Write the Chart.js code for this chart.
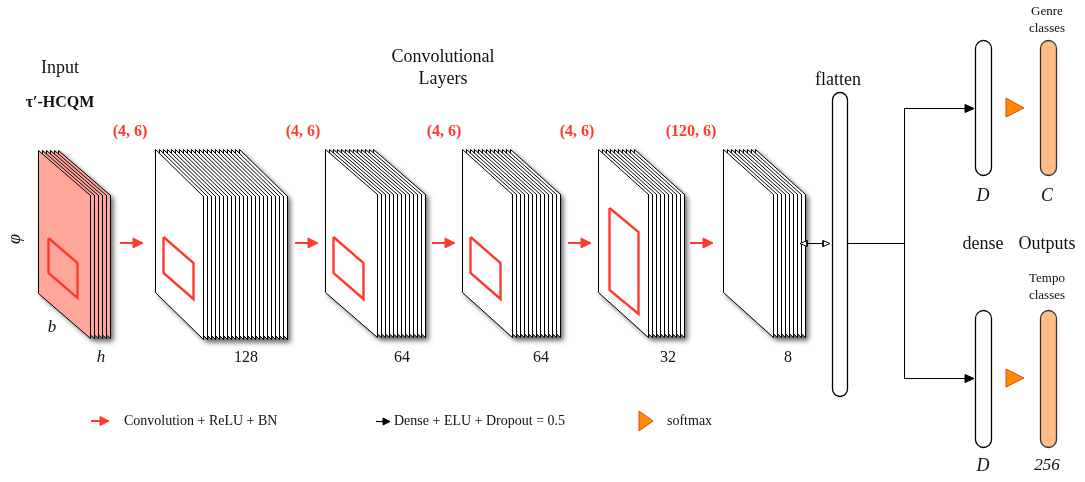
<!DOCTYPE html>
<html>
<head>
<meta charset="utf-8">
<script src="https://cdn.jsdelivr.net/npm/chart.js@4.4.1/dist/chart.umd.min.js"></script>
<style>
  html, body { margin: 0; padding: 0; background: #fff; }
  #wrap { width: 1085px; height: 482px; }
</style>
</head>
<body>
<div id="wrap"><canvas id="net" width="1085" height="482"></canvas></div>
<script>
// values of the network
var layerNames = ['input', 'conv1', 'conv2', 'conv3', 'conv4', 'conv5'];
var filterLabels = ['h', '128', '64', '64', '32', '8'];
var kernelLabels = ['(4, 6)', '(4, 6)', '(4, 6)', '(4, 6)', '(120, 6)'];
var sheetCounts = [6, 22, 13, 13, 10, 9];
var denseLabels = ['D', 'D'];
var outputLabels = ['C', '256'];
var outputNames = [['Genre', 'classes'], ['Tempo', 'classes']];
var legendLabels = ['Convolution + ReLU + BN', 'Dense + ELU + Dropout = 0.5', 'softmax'];

// layout (pixels in the 1085x482 frame)
var stackLeft = [38.5, 155.5, 325.5, 462.5, 598.5, 723.5];
var stackTop = [150, 149, 149, 149, 149, 149];
var sheetW = [52, 48, 52, 50, 50, 50];
var sheetSlant = [45, 47, 45, 45, 45, 45];
var sheetH = 143;
var sheetGap = 4;
// kernel window: dx, dy, width, slant, height (relative to front sheet)
var winBox = [[10, 88, 29, 25, 35], [8, 88, 30, 26, 36], [8, 88, 30, 26, 36], [8, 88, 30, 26, 36], [11, 59, 29, 24, 82], null];
var convArrowX = [120, 295, 432, 568, 690];
var kernelX = [130, 303, 444, 577, 691];
var filterX = [101, 246, 402, 541, 668, 788];

var RED = '#ff3b2f';
var SALMON = '#ffa59a';
var PEACH = '#ffbe88';
var ORANGE = '#ff8c00';
var SERIF = '"Liberation Serif", "DejaVu Serif", serif';

var datasets = [];

function poly(pts, stroke, width, fillColor) {
	var d = pts.map(function(p) { return { x: p[0], y: p[1] }; });
	d.push({ x: pts[0][0], y: pts[0][1] });
	datasets.push({
		data: d,
		borderColor: stroke,
		borderWidth: width,
		backgroundColor: fillColor || 'rgba(0,0,0,0)',
		fill: fillColor ? 'shape' : false,
		pointRadius: 0,
		tension: 0,
		borderJoinStyle: 'miter'
	});
}

function seg(x0, y0, x1, y1, stroke, width) {
	datasets.push({
		data: [{ x: x0, y: y0 }, { x: x1, y: y1 }],
		borderColor: stroke,
		borderWidth: width,
		fill: false,
		pointRadius: 0,
		tension: 0
	});
}

function arrow(x0, y, x1, stroke, width, headL, headW) {
	seg(x0, y, x1 - headL + 1, y, stroke, width);
	poly([[x1 - headL, y - headW], [x1, y], [x1 - headL, y + headW]], stroke, 1, stroke);
}

function sheetPts(k, i) {
	var x = stackLeft[k] + i * sheetGap, t = stackTop[k] + 0.5, w = sheetW[k], s = sheetSlant[k];
	return [[x, t], [x + w, t + s], [x + w, t + s + sheetH], [x, t + sheetH]];
}

function hullPts(k) {
	var n = sheetCounts[k];
	var f = sheetPts(k, 0), b = sheetPts(k, n - 1);
	return [f[0], b[0], b[1], b[2], f[2], f[3]];
}

// feature map stacks
layerNames.forEach(function(name, k) {
	for (var i = sheetCounts[k] - 1; i >= 0; i--) {
		poly(sheetPts(k, i), '#000', 1, k == 0 ? SALMON : '#fff');
	}
	var wb = winBox[k];
	if (wb) {
		var x = stackLeft[k] + wb[0], t = stackTop[k] + wb[1];
		poly([[x, t], [x + wb[2], t + wb[3]], [x + wb[2], t + wb[3] + wb[4]], [x, t + wb[4]]], RED, 2.4);
	}
});

// conv arrows
convArrowX.forEach(function(x) { arrow(x, 243, x + 23, RED, 2, 10, 5); });

// flatten <-> conv5
seg(803, 243.5, 827, 243.5, '#000', 1);
poly([[800, 243.5], [807, 240.5], [807, 246.5]], '#000', 1, '#fff');
poly([[830, 243.5], [823, 240.5], [823, 246.5]], '#000', 1, '#fff');

// flatten -> dense
seg(847, 243.5, 904.5, 243.5, '#000', 1);
seg(904.5, 108, 904.5, 379, '#000', 1);
arrow(904.5, 108.5, 974, '#000', 1, 9, 4);
arrow(904.5, 378.5, 974, '#000', 1, 9, 4);

// softmax triangles
poly([[1006, 98], [1024, 108], [1006, 117]], '#e0451b', 1, ORANGE);
poly([[1006, 369], [1024, 378], [1006, 387]], '#e0451b', 1, ORANGE);

// legend marks
arrow(91, 421, 109, RED, 2, 9, 4.5);
arrow(376, 421.5, 390, '#000', 1.2, 7, 3.5);
poly([[639, 411], [653, 421], [639, 431]], '#e0451b', 1, ORANGE);

// first dataset is drawn on top, so reverse the build order
datasets.reverse();

var capsules = [
	[832.5, 92.5, 15, 304, '#fff', '#000'],
	[975.5, 40.5, 16, 135, '#fff', '#000'],
	[975.5, 310.5, 16, 137, '#fff', '#000'],
	[1040.5, 40.5, 16, 135, PEACH, '#333'],
	[1040.5, 310.5, 16, 137, PEACH, '#333']
];

var texts = [
	['Input', 60, 68, '18px', ''],
	['\u03c4\u2032-HCQM', 60, 103, 'bold 16px', ''],
	['Convolutional', 443, 57, '18px', ''],
	['Layers', 443, 79, '18px', ''],
	['flatten', 838, 80, '18px', ''],
	['b', 52, 328, 'italic 17px', ''],
	['dense', 983, 244, '18px', ''],
	['Outputs', 1047, 244, '18px', '']
];

var diagramPlugin = {
	id: 'diagram',
	beforeDatasetsDraw: function(chart) {
		var ctx = chart.ctx, sx = chart.scales.x, sy = chart.scales.y;
		// soft drop shadows under the stacks (offset, blurred copy of the hull)
		layerNames.forEach(function(name, k) {
			var pts = hullPts(k);
			ctx.save();
			ctx.filter = 'blur(2.5px)';
			ctx.fillStyle = 'rgba(0,0,0,0.6)';
			ctx.beginPath();
			pts.forEach(function(p, i) {
				var px = sx.getPixelForValue(p[0] + 3), py = sy.getPixelForValue(p[1] + 3);
				if (i == 0) ctx.moveTo(px, py); else ctx.lineTo(px, py);
			});
			ctx.closePath();
			ctx.fill();
			ctx.restore();
		});
	},
	afterDatasetsDraw: function(chart) {
		var ctx = chart.ctx, sx = chart.scales.x, sy = chart.scales.y;
		capsules.forEach(function(c) {
			var x = sx.getPixelForValue(c[0]), y = sy.getPixelForValue(c[1]);
			var w = sx.getPixelForValue(c[0] + c[2]) - x, h = sy.getPixelForValue(c[1] + c[3]) - y;
			ctx.save();
			ctx.beginPath();
			ctx.roundRect(x, y, w, h, w / 2);
			ctx.fillStyle = c[4];
			ctx.fill();
			ctx.lineWidth = 1.3;
			ctx.strokeStyle = c[5];
			ctx.stroke();
			ctx.restore();
		});
	},
	afterDraw: function(chart) {
		var ctx = chart.ctx, sx = chart.scales.x, sy = chart.scales.y;
		function put(str, x, y, font, color, align) {
			ctx.font = font + ' ' + SERIF;
			ctx.fillStyle = color || '#111';
			ctx.textAlign = align || 'center';
			ctx.textBaseline = 'middle';
			ctx.fillText(str, sx.getPixelForValue(x), sy.getPixelForValue(y));
		}
		ctx.save();
		texts.forEach(function(t) { put(t[0], t[1], t[2], t[3]); });
		kernelLabels.forEach(function(s, i) { put(s, kernelX[i], 132, 'bold 16px', RED); });
		filterLabels.forEach(function(s, i) { put(s, filterX[i], 358, i == 0 ? 'italic 17px' : '16px'); });
		denseLabels.forEach(function(s, i) { put(s, 983, i == 0 ? 196 : 466, 'italic 18px'); });
		outputLabels.forEach(function(s, i) { put(s, 1047, i == 0 ? 196 : 466, i == 0 ? 'italic 18px' : 'italic 17px'); });
		outputNames.forEach(function(lines, i) {
			put(lines[0], 1047, i == 0 ? 12 : 279, '13px');
			put(lines[1], 1047, i == 0 ? 29 : 296, '13px');
		});
		put(legendLabels[0], 124, 421, '14px', '#111', 'left');
		put(legendLabels[1], 394, 421, '14px', '#111', 'left');
		put(legendLabels[2], 667, 421, '14px', '#111', 'left');
		// phi, rotated along the input height
		ctx.translate(sx.getPixelForValue(15), sy.getPixelForValue(239));
		ctx.rotate(-Math.PI / 2);
		ctx.font = 'italic 18px ' + SERIF;
		ctx.fillStyle = '#111';
		ctx.textAlign = 'center';
		ctx.textBaseline = 'middle';
		ctx.fillText('\u03c6', 0, 0);
		ctx.restore();
	}
};

new Chart(document.getElementById('net').getContext('2d'), {
	type: 'line',
	data: { datasets: datasets },
	options: {
		responsive: false,
		animation: false,
		layout: { padding: 0 },
		scales: {
			x: { type: 'linear', min: 0, max: 1085, display: false },
			y: { type: 'linear', min: 0, max: 482, reverse: true, display: false }
		},
		plugins: {
			legend: { display: false },
			tooltip: { enabled: false }
		}
	},
	plugins: [diagramPlugin]
});
</script>
</body>
</html>
